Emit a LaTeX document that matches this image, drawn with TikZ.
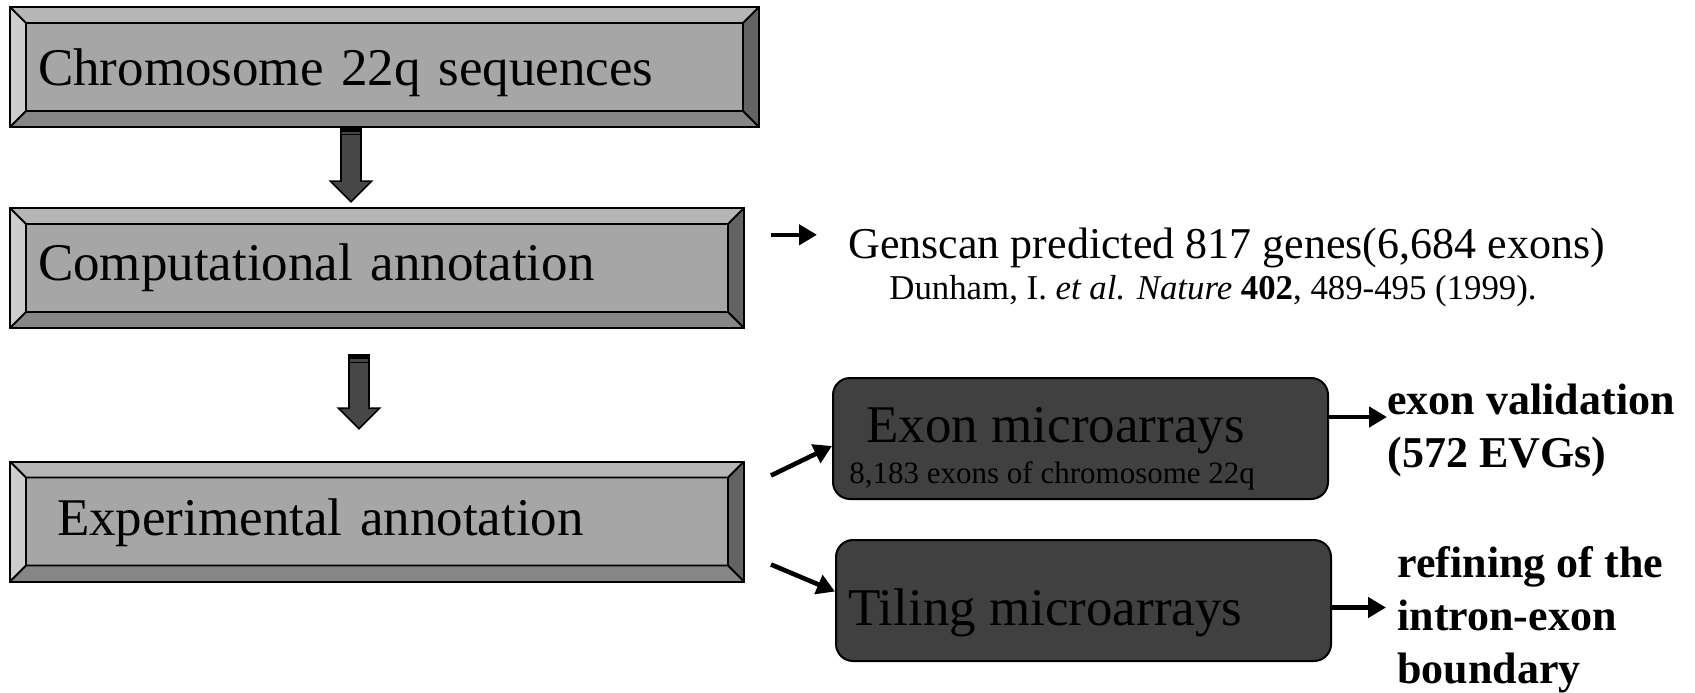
\documentclass[tikz,border=0pt]{standalone}
\usepackage{fontspec}
\setmainfont{Liberation Serif}
\usetikzlibrary{arrows.meta, positioning}

\definecolor{bevface}{HTML}{A6A6A6}
\definecolor{bevtop}{HTML}{B6B6B6}
\definecolor{bevleft}{HTML}{CDCDCD}
\definecolor{bevbottom}{HTML}{868686}
\definecolor{bevright}{HTML}{636363}
\definecolor{darkfill}{HTML}{404040}
\definecolor{arrowfill}{HTML}{474747}

\newcommand{\boxfont}{\fontsize{26.5}{31}\selectfont}
\newcommand{\notefont}{\fontsize{22}{26}\selectfont}
\newcommand{\reffont}{\fontsize{17.4}{20}\selectfont}
\newcommand{\smallboxfont}{\fontsize{15.5}{18}\selectfont}
\newcommand{\resultfont}{\fontsize{22}{26.5}\selectfont\bfseries}

\begin{document}
\begin{tikzpicture}[x=1pt, y=1pt,
    bevelbox/.style={draw, line width=1pt, fill=bevface, minimum height=60pt,
      inner ysep=0pt, align=left, font=\boxfont,
      path picture={
        \coordinate (bnw) at (path picture bounding box.north west);
        \coordinate (bne) at (path picture bounding box.north east);
        \coordinate (bsw) at (path picture bounding box.south west);
        \coordinate (bse) at (path picture bounding box.south east);
        \coordinate (inw) at ([shift={(8pt,-8pt)}]bnw);
        \coordinate (ine) at ([shift={(-8pt,-8pt)}]bne);
        \coordinate (isw) at ([shift={(8pt,8pt)}]bsw);
        \coordinate (ise) at ([shift={(-8pt,8pt)}]bse);
        \fill[bevtop] (bnw) -- (bne) -- (ine) -- (inw) -- cycle;
        \fill[bevright] (bne) -- (bse) -- (ise) -- (ine) -- cycle;
        \fill[bevbottom] (bse) -- (bsw) -- (isw) -- (ise) -- cycle;
        \fill[bevleft] (bsw) -- (bnw) -- (inw) -- (isw) -- cycle;
        \draw[line width=0.9pt] (inw) rectangle (ise)
          (bnw) -- (inw) (bne) -- (ine) (bsw) -- (isw) (bse) -- (ise);
      }},
    darkbox/.style={draw, line width=1pt, fill=darkfill, rounded corners=8.5pt,
      minimum width=247.5pt, minimum height=60.5pt},
    textlbl/.style={inner sep=0pt, anchor=base west},
    resultlbl/.style={inner sep=0pt, anchor=base west, align=left, font=\resultfont},
    smallarrow/.style={line width=2.3pt, -{Triangle[length=9pt, width=10pt]}},
    blockarrow/.style={draw, line width=0.8pt, fill=arrowfill, line join=miter}
  ]
    \useasboundingbox (0,0) rectangle (847.5,346);

    % left column
    \node[bevelbox, text width=346.5pt, inner xsep=14pt, text height=24.25pt] (chrom) at (192.25,312.5) {Chromosome 22q sequences};
    \node[bevelbox, text width=339pt, inner xsep=14pt, below=39.5pt of chrom.south west, anchor=north west] (comp) {Computational annotation};
    \node[bevelbox, text width=320pt, inner xsep=23.5pt, text height=19.75pt, below=65.75pt of comp.south west, anchor=north west] (expt) {Experimental annotation};

    \foreach \from/\dx/\dy in {chrom/-21.75/0, comp/-14/-13} {
      \draw[blockarrow] ([shift={(\dx pt,\dy pt)}]\from.south) -- ++(0,-26.6) -- ++(-5.25,0)
        -- ++(10.25,-10.3) -- ++(10.25,10.3) -- ++(-5.25,0) -- ++(0,26.6) -- cycle;
      \fill ([shift={(\dx pt,\dy pt)}]\from.south) rectangle ++(10,-2);
      \draw[line width=0.5pt] ([shift={(\dx pt,\dy pt - 3.5pt)}]\from.south) -- ++(10,0);
    }

    % Genscan
    \node[textlbl, font=\notefont] (genscan) at (424,217) {Genscan predicted 817 genes(6,684 exons)};
    \node[textlbl, font=\reffont] (dunham) at ([shift={(20.5pt,-20.5pt)}]genscan.base west) {Dunham, I. \textit{et al. Nature} \textbf{402}, 489-495 (1999).};
    \coordinate (gsfrom) at ([shift={(13pt,16.6pt)}]comp.east);
    \draw[smallarrow, shorten >=15.5pt] (gsfrom) -- (gsfrom -| genscan.west);

    % microarrays
    \node[darkbox] (exon) at (540.25,126.75) {};
    \node[darkbox, below=19.5pt of exon, xshift=1.5pt] (tiling) {};
    \node[textlbl, font=\boxfont] (exonlbl) at ([shift={(17pt,-1.75pt)}]exon.west) {Exon microarrays};
    \node[textlbl, font=\smallboxfont] (exonsub) at ([shift={(8.5pt,-22.25pt)}]exon.west) {8,183 exons of chromosome 22q};
    \node[textlbl, font=\boxfont] (tilinglbl) at ([shift={(6.5pt,-12.5pt)}]tiling.west) {Tiling microarrays};

    \draw[smallarrow] ([shift={(13pt,23pt)}]expt.east) -- ([yshift=-3.75pt]exon.west);
    \draw[smallarrow] ([shift={(13pt,-21.5pt)}]expt.east) -- ([yshift=4.5pt]tiling.west);

    % results
    \node[resultlbl] (valid) at (693.5,112.5) {exon validation\\(572 EVGs)};
    \node[resultlbl] (refine) at (698.5,4.5) {refining of the\\intron-exon\\boundary};

    \draw[smallarrow] ([yshift=10.75pt]exon.east) -- ([yshift=10.75pt]exon.east -| valid.west);
    \draw[smallarrow, shorten >=5.5pt] ([yshift=-3.5pt]tiling.east) -- ([yshift=-3.5pt]tiling.east -| refine.west);
\end{tikzpicture}
\end{document}
